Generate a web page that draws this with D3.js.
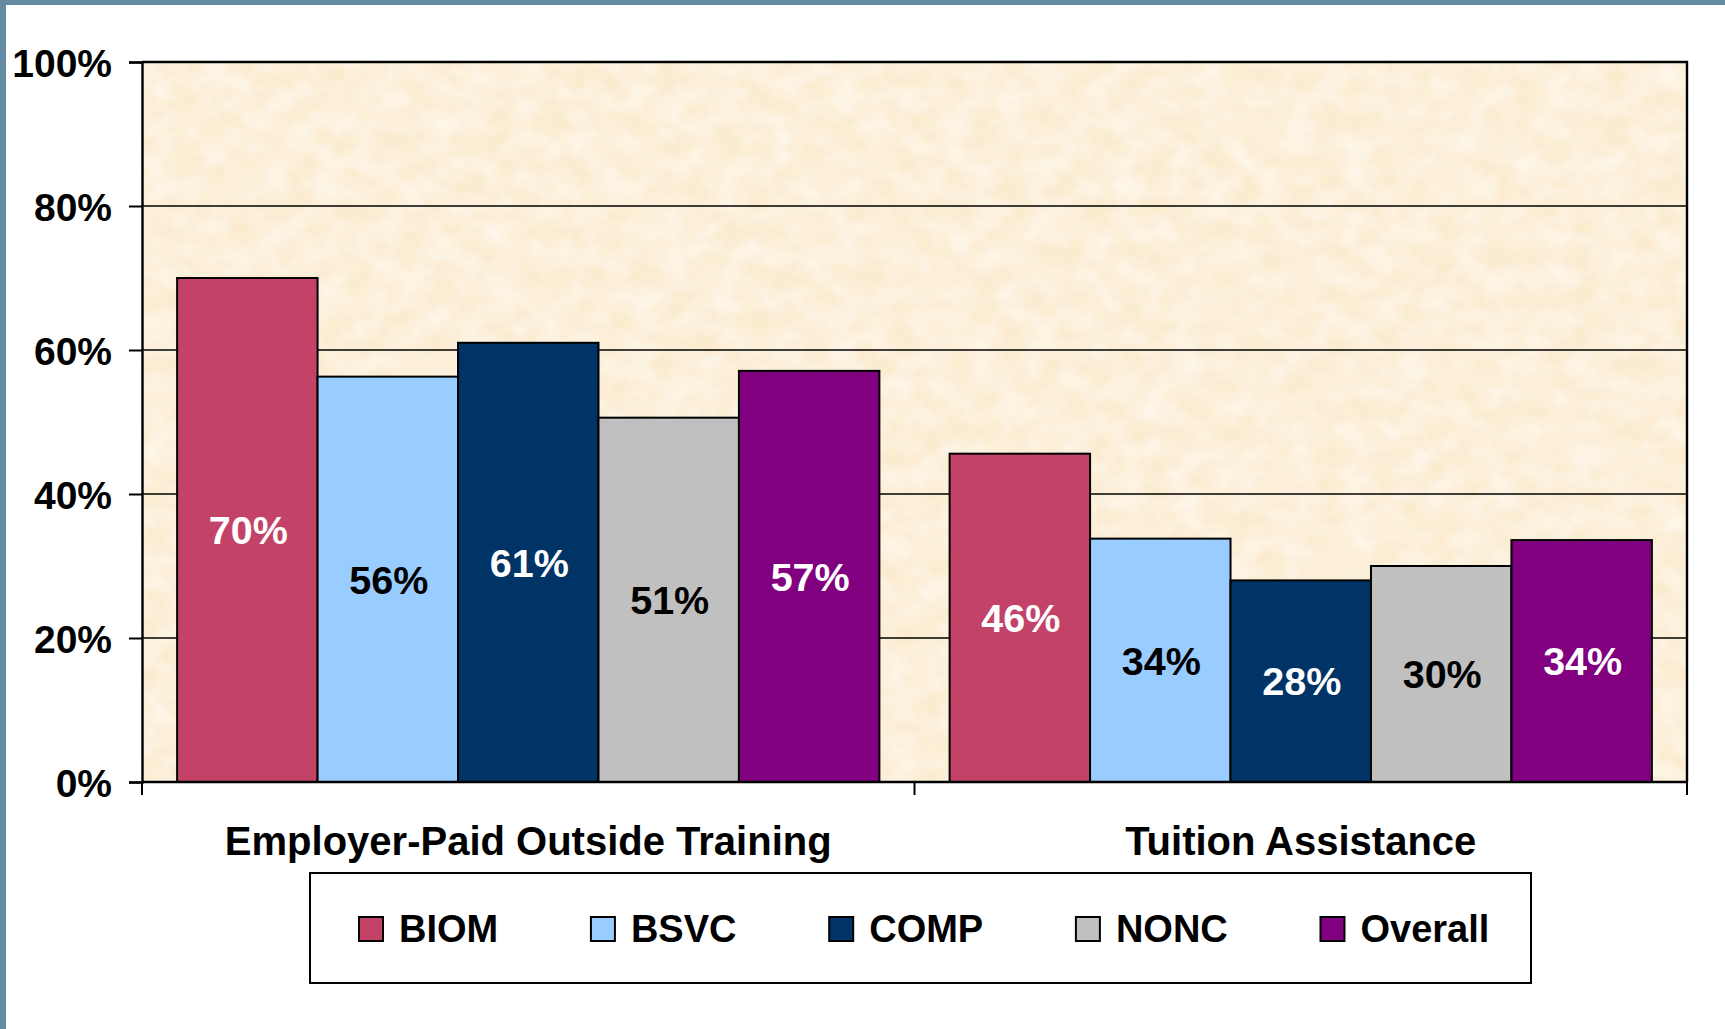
<!DOCTYPE html>
<html>
<head>
<meta charset="utf-8">
<script src="https://cdn.jsdelivr.net/npm/d3@7"></script>
<style>
  html, body { margin: 0; padding: 0; background: #ffffff; }
  svg { display: block; }
  text { font-family: "Liberation Sans", Arial, "DejaVu Sans", sans-serif; font-weight: bold; }
</style>
</head>
<body>
<svg id="chart" width="1725" height="1029"></svg>
<script>
// ---- data ----
const categories = ["Employer-Paid Outside Training", "Tuition Assistance"];
const seriesNames = ["BIOM", "BSVC", "COMP", "NONC", "Overall"];
const BIOM    = [70.0, 45.6];
const BSVC    = [56.3, 33.8];
const COMP    = [61.0, 28.0];
const NONC    = [50.6, 30.0];
const Overall = [57.1, 33.6];
const yTicks  = [0, 20, 40, 60, 80, 100];

const seriesValues = [BIOM, BSVC, COMP, NONC, Overall];
const seriesColors = ["#c34368", "#99ccff", "#003366", "#c0c0c0", "#800080"];
const labelColors  = ["#ffffff", "#000000", "#ffffff", "#000000", "#ffffff"];

// ---- layout ----
const W = 1725, H = 1029;
const plot = { left: 142, right: 1687, top: 62, bottom: 782 };

const svg = d3.select("#chart");

// frame bands
svg.append("rect").attr("x", 0).attr("y", 0).attr("width", W).attr("height", 5).attr("fill", "#648ba1");
svg.append("rect").attr("x", 0).attr("y", 0).attr("width", 6).attr("height", H).attr("fill", "#648ba1");

// texture filter
const defs = svg.append("defs");
const f = defs.append("filter").attr("id", "paper")
  .attr("x", 0).attr("y", 0).attr("width", "100%").attr("height", "100%");
f.append("feTurbulence").attr("type", "fractalNoise").attr("baseFrequency", "0.035 0.045")
  .attr("numOctaves", 4).attr("seed", 7).attr("result", "n");
f.append("feColorMatrix").attr("in", "n").attr("type", "matrix")
  .attr("values", "0 0 0 0 1  0 0 0 0 1  0 0 0 0 1  0.9 0 0 0 -0.22");

const x0 = d3.scaleBand().domain(categories).range([plot.left, plot.right]).padding(0);
const x1 = d3.scaleBand().domain(seriesNames).range([0, x0.bandwidth()]).paddingInner(0).paddingOuter(0.25);
const y = d3.scaleLinear().domain([0, 100]).range([plot.bottom, plot.top]);

// plot background
svg.append("rect").attr("x", plot.left).attr("y", plot.top)
  .attr("width", plot.right - plot.left).attr("height", plot.bottom - plot.top)
  .attr("fill", "#fbebcf");
svg.append("rect").attr("x", plot.left).attr("y", plot.top)
  .attr("width", plot.right - plot.left).attr("height", plot.bottom - plot.top)
  .attr("fill", "#fff").attr("filter", "url(#paper)");

// gridlines
svg.append("g").selectAll("line").data(yTicks.filter(t => t > 0 && t < 100)).join("line")
  .attr("x1", plot.left).attr("x2", plot.right)
  .attr("y1", d => y(d)).attr("y2", d => y(d))
  .attr("stroke", "#000").attr("stroke-width", 1.6);

// bars
const groups = svg.append("g").selectAll("g").data(categories).join("g")
  .attr("transform", d => `translate(${x0(d)},0)`);

groups.each(function(cat, ci) {
  const g = d3.select(this);
  const rows = seriesNames.map((s, si) => ({ s, si, v: seriesValues[si][ci] }));
  g.selectAll("rect").data(rows).join("rect")
    .attr("x", d => x1(d.s))
    .attr("y", d => y(d.v))
    .attr("width", x1.bandwidth())
    .attr("height", d => y(0) - y(d.v))
    .attr("fill", d => seriesColors[d.si])
    .attr("stroke", "#000").attr("stroke-width", 2);
  g.selectAll("text").data(rows).join("text")
    .attr("x", d => x1(d.s) + x1.bandwidth() / 2 + 1)
    .attr("y", d => (y(d.v) + y(0)) / 2)
    .attr("dy", "0.36em")
    .attr("text-anchor", "middle")
    .attr("font-size", 39.5)
    .attr("fill", d => labelColors[d.si])
    .text(d => d3.format(".0f")(d.v) + "%");
});

// plot border (top/right)
svg.append("path")
  .attr("d", `M${plot.left},${plot.top}H${plot.right}V${plot.bottom}`)
  .attr("fill", "none").attr("stroke", "#000").attr("stroke-width", 2.4);

// y axis
const yAxis = d3.axisLeft(y).tickValues(yTicks).tickSize(13).tickPadding(17)
  .tickFormat(d => d + "%");
const ya = svg.append("g").attr("transform", `translate(${plot.left},0)`).call(yAxis);
ya.select(".domain").attr("stroke", "#000").attr("stroke-width", 2.4);
ya.selectAll(".tick line").attr("stroke", "#000").attr("stroke-width", 2);
ya.selectAll(".tick text").attr("font-size", 39).attr("fill", "#000")
  .attr("font-family", null).attr("dy", "0.36em");

// x axis
svg.append("line").attr("x1", plot.left).attr("x2", plot.right)
  .attr("y1", plot.bottom).attr("y2", plot.bottom)
  .attr("stroke", "#000").attr("stroke-width", 2.4);
const xTickPos = categories.map(c => x0(c)).concat([x0.range()[1]]);
svg.append("g").selectAll("line").data(xTickPos).join("line")
  .attr("x1", d => d).attr("x2", d => d)
  .attr("y1", plot.bottom).attr("y2", plot.bottom + 13)
  .attr("stroke", "#000").attr("stroke-width", 2);
svg.append("g").selectAll("text").data(categories).join("text")
  .attr("x", d => x0(d) + x0.bandwidth() / 2)
  .attr("y", 855)
  .attr("text-anchor", "middle")
  .attr("font-size", 40)
  .attr("fill", "#000")
  .text(d => d);

// legend
const legend = { left: 310, top: 873, width: 1221, height: 110 };
svg.append("rect").attr("x", legend.left).attr("y", legend.top)
  .attr("width", legend.width).attr("height", legend.height)
  .attr("fill", "#fff").attr("stroke", "#000").attr("stroke-width", 2);

const lg = svg.append("g");
let cx = 359;
seriesNames.forEach((s, i) => {
  lg.append("rect").attr("x", cx).attr("y", 917).attr("width", 24).attr("height", 24)
    .attr("fill", seriesColors[i]).attr("stroke", "#000").attr("stroke-width", 2);
  const t = lg.append("text").attr("x", cx + 40).attr("y", 942)
    .attr("font-size", 38).attr("fill", "#000").text(s);
  cx = cx + 40 + t.node().getComputedTextLength() + 92.7;
});
</script>
</body>
</html>
